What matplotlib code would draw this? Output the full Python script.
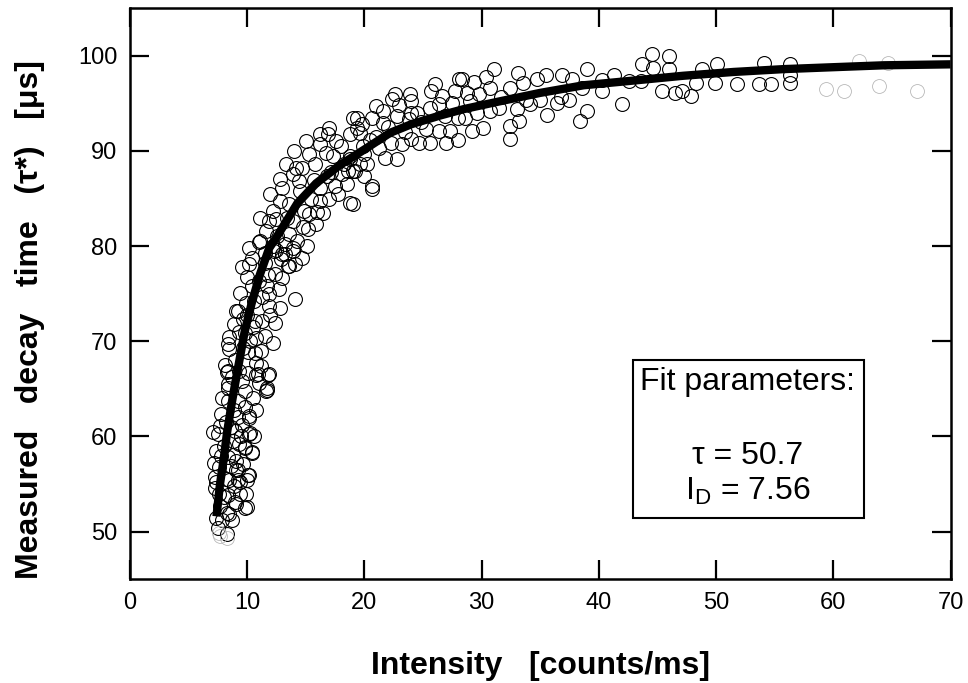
import matplotlib.pyplot as plt
import numpy as np
from matplotlib.patches import Rectangle

plt.rcParams['font.family'] = ['Liberation Sans', 'DejaVu Sans']
plt.rcParams['mathtext.fontset'] = 'custom'
plt.rcParams['mathtext.rm'] = 'Liberation Sans'
plt.rcParams['mathtext.it'] = 'Liberation Sans:italic'
plt.rcParams['mathtext.bf'] = 'Liberation Sans:bold'

# measured points (intensity, decay time)
pts_low = [
    (11.6, 64.8), (10.2, 62.1), (10.3, 60.4), (9.8, 58.8), (10.4, 58.3), (10.1, 55.9),
    (9.2, 55.4), (9.2, 56.5), (9.1, 57.4), (8.4, 57.8), (8.4, 53.8), (9.1, 52.9),
    (9.8, 52.5), (8.3, 52.0), (7.9, 51.2), (7.5, 50.4), (8.3, 49.8), (7.5, 60.3),
    (7.4, 58.5), (7.3, 55.7), (7.3, 54.6), (7.8, 62.4), (9.2, 62.0), (9.0, 60.6),
    (9.2, 63.7), (8.4, 63.7), (9.8, 64.8), (8.4, 65.1), (10.0, 55.4), (8.5, 55.4),
    (8.7, 51.2), (8.3, 66.8), (8.5, 69.2), (10.1, 68.9), (10.8, 66.5), (11.8, 66.5),
    (11.7, 64.9), (9.8, 63.1), (10.2, 61.9), (10.2, 60.3), (10.4, 58.4), (10.2, 56.0),
    (9.8, 58.9), (9.1, 56.5), (9.4, 55.2), (10.0, 52.6), (9.0, 53.1), (8.5, 51.9),
    (7.4, 51.4), (7.1, 60.5), (7.4, 55.2), (7.8, 57.9), (8.0, 59.0), (8.8, 59.5),
    (9.5, 60.0), (8.2, 61.5), (8.9, 62.8), (9.6, 61.2), (7.6, 56.8), (8.6, 56.9),
    (9.4, 54.0), (8.0, 53.6), (8.9, 54.8), (7.9, 64.0), (8.7, 66.2), (9.3, 66.9),
    (9.6, 65.8), (8.1, 67.5), (10.5, 64.0), (7.7, 52.7), (8.2, 55.5), (9.7, 57.1),
    (7.2, 57.2), (7.7, 61.1), (8.6, 61.0), (9.3, 59.2), (10.8, 62.8), (11.0, 65.6),
    (9.9, 54.0), (8.8, 58.0), (7.6, 54.0), (10.6, 60.0),
]

pts_rise = [
    (14.1, 74.4), (13.2, 79.2), (14.1, 78.1), (13.5, 77.9), (12.4, 77.1), (11.9, 75.0),
    (11.9, 73.7), (11.3, 72.1), (12.4, 71.9), (11.5, 70.6), (10.8, 70.3), (10.7, 68.8),
    (10.8, 67.7), (10.9, 66.6), (11.9, 66.6), (11.7, 65.1), (10.2, 78.1), (10.4, 78.8),
    (9.4, 75.1), (9.2, 73.2), (9.8, 70.9), (8.4, 69.7), (8.4, 66.9), (8.4, 65.5),
    (10.1, 66.7), (10.7, 72.1), (11.3, 74.6), (11.7, 75.8), (12.2, 80.0), (10.2, 79.8),
    (13.2, 80.2), (14.7, 78.8), (13.6, 77.9), (13.9, 79.8), (9.1, 73.2), (8.5, 70.4),
    (9.0, 68.0), (9.7, 69.3), (10.3, 70.0), (9.3, 71.0), (10.0, 72.8), (10.6, 74.2),
    (11.0, 76.3), (10.0, 76.8), (11.5, 78.2), (12.0, 72.8), (12.7, 75.5), (12.9, 78.6),
    (10.5, 71.5), (11.2, 69.0), (9.9, 74.0), (11.0, 80.4), (12.8, 73.5), (8.9, 71.8),
    (9.6, 77.8), (11.2, 67.4), (12.2, 69.8), (13.0, 76.6), (12.5, 79.6), (11.8, 77.0),
    (9.7, 72.3), (10.4, 75.8),
]

pts_knee = [
    (18.8, 84.5), (19.4, 92.4), (18.8, 91.8), (17.6, 91.0), (16.9, 91.8), (16.2, 90.7),
    (15.3, 89.7), (14.7, 88.2), (13.9, 87.6), (13.0, 86.1), (12.8, 84.7), (12.2, 83.7),
    (11.1, 83.0), (11.9, 82.6), (11.1, 80.5), (11.5, 79.3), (13.0, 79.2), (13.9, 79.5),
    (14.3, 80.5), (15.2, 81.8), (15.9, 82.3), (15.3, 83.4), (16.5, 83.5), (16.2, 84.7),
    (17.5, 86.3), (18.5, 86.5), (18.1, 87.6), (19.0, 87.9), (20.0, 87.4), (16.8, 87.4),
    (14.9, 83.7), (13.9, 82.6), (13.6, 81.3), (15.1, 80.0), (12.6, 81.1), (13.6, 84.4),
    (16.2, 86.1), (17.3, 89.5), (18.8, 89.2), (19.9, 90.5), (15.8, 88.6), (19.0, 84.4),
    (20.7, 86.0), (18.6, 87.9), (12.8, 87.1), (14.2, 88.2), (16.2, 91.8), (17.0, 92.4),
    (19.4, 93.5), (12.0, 85.5), (13.3, 88.6), (14.0, 90.0), (15.0, 91.0), (14.5, 85.8),
    (15.5, 85.0), (17.0, 84.9), (17.8, 85.5), (12.3, 79.5), (14.8, 82.0), (16.7, 89.8),
    (18.0, 90.5), (12.5, 82.8), (11.6, 81.6), (13.4, 83.0), (15.7, 86.9), (17.2, 87.8),
    (14.4, 86.8), (16.0, 83.6), (19.6, 88.6),
]

pts_mid = [
    (31.1, 98.6), (30.4, 97.8), (28.1, 97.6), (29.8, 96.0), (28.8, 96.1), (27.7, 96.3),
    (25.7, 96.3), (23.9, 96.0), (22.6, 96.0), (30.7, 94.2), (29.6, 94.0), (28.6, 93.5),
    (28.0, 93.5), (26.9, 93.7), (25.6, 94.5), (24.5, 94.0), (24.0, 94.0), (22.8, 93.7),
    (21.6, 92.9), (20.7, 93.5), (19.8, 92.8), (19.0, 93.5), (29.2, 92.1), (28.0, 91.2),
    (27.3, 92.1), (26.4, 92.1), (25.3, 92.3), (25.6, 90.8), (24.7, 90.8), (24.0, 91.3),
    (23.2, 90.7), (22.3, 90.8), (21.3, 90.3), (20.0, 89.7), (20.2, 88.6), (18.8, 89.5),
    (18.3, 88.6), (19.2, 87.9), (20.7, 86.3), (22.8, 89.2), (30.1, 92.4), (24.0, 95.2),
    (26.4, 94.9), (21.6, 94.2), (19.6, 91.9), (21.0, 94.7), (22.4, 95.5), (28.3, 97.6),
    (21.0, 91.5), (22.0, 92.5), (23.5, 92.0), (24.8, 93.0), (27.5, 95.0), (29.0, 95.2),
    (26.0, 97.0), (23.0, 94.8), (20.5, 91.2), (27.0, 90.8), (21.8, 89.3), (23.8, 93.4),
    (26.6, 95.8), (29.4, 97.2),
]

pts_high = [
    (44.5, 100.2), (46.0, 100.0), (43.7, 99.1), (44.6, 98.7), (46.0, 98.6), (33.1, 98.2),
    (34.7, 97.6), (35.5, 98.0), (36.9, 98.0), (37.7, 97.6), (39.0, 98.6), (40.3, 97.5),
    (41.3, 98.0), (42.6, 97.3), (43.6, 97.3), (45.4, 96.3), (46.5, 96.1), (47.1, 96.3),
    (42.0, 94.9), (40.3, 96.3), (38.6, 96.6), (37.5, 95.4), (36.4, 95.0), (35.6, 93.8),
    (39.0, 94.2), (38.4, 93.1), (33.2, 93.1), (32.4, 91.3), (32.4, 92.6), (31.5, 94.5),
    (33.0, 94.4), (34.1, 94.9), (33.5, 97.1), (32.4, 96.6), (30.7, 96.6), (35.0, 95.4),
    (36.8, 95.7), (33.8, 95.4), (31.7, 95.7), (48.8, 98.6), (50.1, 99.1), (49.9, 97.1),
    (48.3, 97.1), (47.9, 95.8), (51.8, 97.0), (54.1, 99.2), (53.7, 97.0), (54.7, 97.0),
    (56.3, 99.1), (56.3, 97.1), (56.3, 98.0),
]

# points printed very faintly in the original
pts_faint = [
    (59.4, 96.5), (60.9, 96.3), (63.9, 96.8), (64.7, 99.2), (67.1, 96.3), (62.2, 99.4),
    (7.7, 49.5), (8.3, 49.3), (7.6, 49.9),
]

# fitted curve
fit_x = [7.4, 7.7, 8.0, 8.3, 8.7, 9.0, 9.4, 9.8, 10.4, 11.1, 11.9, 12.5, 13.0, 14.3,
         15.9, 17.9, 20.2, 22.2, 24.0, 26.4, 28.5, 31.5, 35.0, 38.7, 43.0, 47.2,
         51.5, 55.8, 60.0, 64.3, 70.0]
fit_y = [51.6, 55.0, 57.5, 60.4, 63.5, 65.6, 68.3, 71.0, 74.0, 77.0, 79.8, 80.9, 81.9,
         84.5, 86.6, 88.5, 90.3, 91.9, 92.8, 93.7, 94.4, 95.2, 96.1, 96.9, 97.4, 97.9,
         98.3, 98.6, 98.8, 99.0, 99.1]

fig = plt.figure(figsize=(9.68, 6.83), dpi=100)
ax = fig.add_axes([0.134, 0.152, 0.848, 0.836])

pts = np.array(pts_low + pts_rise + pts_knee + pts_mid + pts_high)
ax.plot(pts[:, 0], pts[:, 1], linestyle='none', marker='o', ms=10, mfc='none',
        mec='black', mew=0.8, zorder=2)
faint = np.array(pts_faint)
ax.plot(faint[:, 0], faint[:, 1], linestyle='none', marker='o', ms=10, mfc='none',
        mec='0.72', mew=0.6, zorder=2)

ax.plot(fit_x, fit_y, color='black', lw=6, solid_capstyle='butt', zorder=3)

ax.set_xlim(0, 70)
ax.set_ylim(45, 105)
ax.set_xticks(np.arange(0, 71, 10))
ax.set_yticks(np.arange(50, 101, 10))
ax.tick_params(direction='in', length=14, width=1.6, labelsize=17, pad=9,
               top=True, right=True)
for s in ax.spines.values():
    s.set_linewidth(1.8)

ax.set_xlabel('Intensity   [counts/ms]', fontsize=23, fontweight='bold', labelpad=27)
ax.set_ylabel('Measured   decay   time   (τ*)   [μs]', fontsize=23, fontweight='bold')
ax.yaxis.set_label_coords(-0.103, 0.455)

# fit parameter box
ax.add_patch(Rectangle((42.9, 51.4), 19.7, 16.6, fill=False, ec='black', lw=1.5, zorder=4))
ax.text(52.7, 65.7, 'Fit parameters:', fontsize=23, ha='center', va='center')
ax.text(52.7, 57.9, 'τ = 50.7', fontsize=23, ha='center', va='center')
ax.text(52.7, 54.2, 'I$_\\mathregular{D}$ = 7.56', fontsize=23, ha='center', va='center')

fig.savefig('out.png', dpi=100)
